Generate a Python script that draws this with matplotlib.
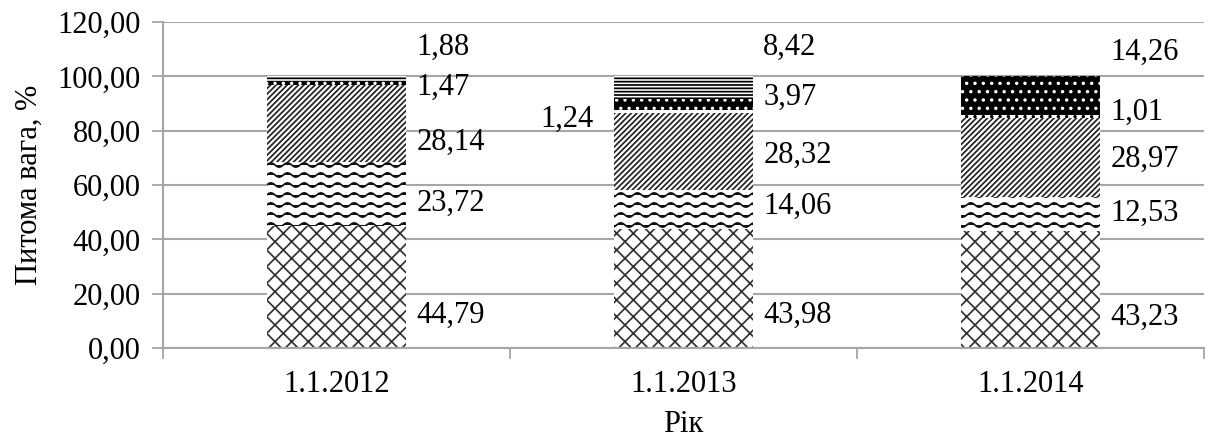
import warnings
import numpy as np
import matplotlib
matplotlib.use("Agg")
import matplotlib.pyplot as plt
from matplotlib import hatch as mhatch
from matplotlib import font_manager
from matplotlib.path import Path

warnings.filterwarnings("ignore")

# дані
years = ["1.1.2012", "1.1.2013", "1.1.2014"]
s1 = [44.79, 43.98, 43.23]
s2 = [23.72, 14.06, 12.53]
s3 = [28.14, 28.32, 28.97]
s4 = [0.0, 1.24, 1.01]
s5 = [1.47, 3.97, 14.26]
s6 = [1.88, 8.42, 0.0]
series = [s1, s2, s3, s4, s5, s6]

# висота підписів (у значеннях осі y)
label_y = [
    [12.1, 12.1, 11.4],
    [53.4, 52.0, 49.7],
    [75.8, 71.0, 69.5],
    [None, 84.0, 86.8],
    [96.0, 92.4, 109.0],
    [110.8, 110.8, None],
]


# хвиляста штриховка '~'
class WaveHatch(mhatch.HatchPatternBase):
    npts = 49

    def __init__(self, hatch, density):
        self.num_lines = int(hatch.count('~') * density * 1.8)
        self.num_vertices = self.num_lines * self.npts

    def set_vertices_and_codes(self, vertices, codes):
        steps, stepsize = np.linspace(0.0, 1.0, self.num_lines, False, retstep=True)
        steps += stepsize / 2.
        xs = np.linspace(0.0, 1.0, self.npts)
        for i, s in enumerate(steps):
            a = i * self.npts
            vertices[a:a + self.npts, 0] = xs
            vertices[a:a + self.npts, 1] = s + 0.022 * np.sin(2 * np.pi * 6 * xs)
            codes[a] = Path.MOVETO
            codes[a + 1:a + self.npts] = Path.LINETO


mhatch._hatch_types.append(WaveHatch)

# шрифт з засічками, який є в системі
names = set(f.name for f in font_manager.fontManager.ttflist)
serif = 'DejaVu Serif'
for n in ['Liberation Serif', 'Times New Roman', 'Nimbus Roman', 'Noto Serif',
          'DejaVu Serif Condensed', 'DejaVu Serif']:
    if n in names:
        serif = n
        break
plt.rcParams['font.family'] = [serif, 'DejaVu Serif']
plt.rcParams['hatch.linewidth'] = 1.25

hatches = ['xx', '~', '//////', '..', '..', '-----']
faces = ['white', 'white', 'white', 'white', 'black', 'white']
hcols = ['#333333', '#111111', '#222222', 'black', 'white', 'black']

fig = plt.figure(figsize=(12.08, 4.43), dpi=100)
ax = fig.add_axes([0.135, 0.2144, 0.8617, 0.7359])

x = np.arange(len(years))
w = 0.4
bottom = np.zeros(len(years))
for vals, h, fc, hc in zip(series, hatches, faces, hcols):
    ax.bar(x, vals, w, bottom=bottom, color=fc, edgecolor=hc, hatch=h,
           linewidth=0, zorder=2)
    bottom += np.array(vals)

# підписи значень
for si, vals in enumerate(series):
    for i, v in enumerate(vals):
        y = label_y[si][i]
        if y is None:
            continue
        txt = f"{v:.2f}".replace('.', ',')
        if si == 3 and i == 1:
            ax.text(x[i] - w / 2 - 0.06, y, txt, ha='right', va='center', fontsize=22)
        else:
            ax.text(x[i] + w / 2 + 0.03, y, txt, ha='left', va='center', fontsize=22)

ax.set_xlim(-0.5, 2.5)
ax.set_ylim(0, 120)
ax.set_yticks(np.arange(0, 121, 20))
ax.set_yticklabels([f"{t:.2f}".replace('.', ',') for t in np.arange(0, 121, 20)])
ax.yaxis.grid(True, color='#a6a6a6', linewidth=1.5, zorder=0)
ax.set_axisbelow(True)

ax.set_xticks([-0.5, 0.5, 1.5, 2.5])
ax.set_xticklabels([])
ax.set_xticks(x, minor=True)
ax.set_xticklabels(years, minor=True)
ax.tick_params(axis='x', which='minor', length=0, pad=16, labelsize=22)
ax.tick_params(axis='x', which='major', length=8, color='#a6a6a6', width=1.3)
ax.tick_params(axis='y', length=8, color='#a6a6a6', width=1.3, labelsize=22, pad=8)

for s in ['top', 'right']:
    ax.spines[s].set_visible(False)
for s in ['left', 'bottom']:
    ax.spines[s].set_color('#a6a6a6')
    ax.spines[s].set_linewidth(1.5)

ax.set_ylabel("Питома вага, %", fontsize=22, labelpad=10)
ax.set_xlabel("Рік", fontsize=22, labelpad=8)

fig.savefig("out.png", dpi=100)
